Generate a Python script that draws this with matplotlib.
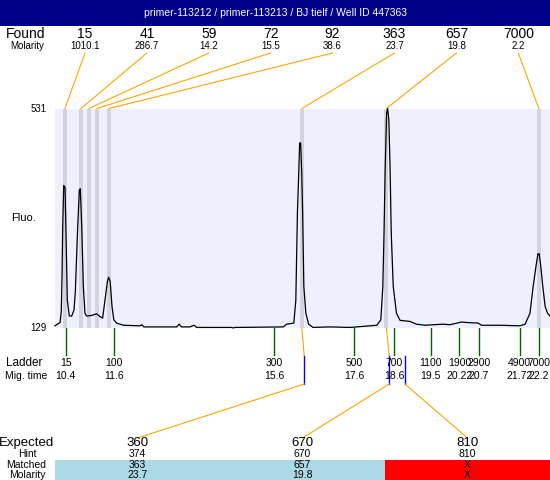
#!/usr/bin/env python3
"""Electropherogram summary for one well: found peaks, ladder and expected sizes."""

import matplotlib
matplotlib.use('Agg')
import matplotlib.pyplot as plt
from matplotlib.patches import Rectangle

plt.rcParams['font.family'] = ['Liberation Sans', 'DejaVu Sans']

TITLE = "primer-113212 / primer-113213 / BJ tielf / Well ID 447363"

# found peaks (size in bp, molarity, migration time)
found_sizes = [15, 41, 59, 72, 92, 363, 657, 7000]
found_molarity = [1010.1, 286.7, 14.2, 15.5, 38.6, 23.7, 19.8, 2.2]
found_times = [10.38, 10.78, 10.98, 11.18, 11.48, 16.29, 18.40, 22.20]

# ladder
ladder_sizes = [15, 100, 300, 500, 700, 1100, 1900, 2900, 4900, 7000]
ladder_times = [10.4, 11.6, 15.6, 17.6, 18.6, 19.5, 20.22, 20.7, 21.72, 22.2]

# expected fragments
expected_sizes = [360, 670, 810]
expected_hint = [374, 670, 810]
expected_times = [16.35, 18.47, 18.86]
matched_peak = [5, 6, None]          # index into found_* lists

# fluorescence trace
trace_time = [10.13, 10.26, 10.29, 10.31, 10.325, 10.35, 10.383, 10.407, 10.44,
              10.49, 10.55, 10.607, 10.64, 10.657, 10.70, 10.74, 10.764, 10.80,
              10.84, 10.88, 10.92, 11.05, 11.17, 11.255, 11.32, 11.38, 11.44,
              11.47, 11.51, 11.555, 11.60, 11.67, 11.84, 12.25, 12.30, 12.35,
              13.17, 13.23, 13.29, 13.50, 13.60, 13.67, 14.54, 14.58, 14.62,
              15.83, 15.91, 16.09, 16.14, 16.18, 16.21, 16.235, 16.26, 16.29,
              16.31, 16.34, 16.39, 16.46, 16.57, 16.99, 17.49, 17.99, 18.16,
              18.26, 18.31, 18.34, 18.37, 18.405, 18.43, 18.46, 18.49, 18.52,
              18.57, 18.65, 18.74, 18.99, 19.15, 19.36, 19.57, 19.82, 19.98,
              20.28, 20.40, 20.69, 20.77, 21.23, 21.73, 21.86, 21.98, 22.06,
              22.13, 22.18, 22.21, 22.25, 22.30, 22.36, 22.42, 22.48]
trace_fluo = [133, 139, 160, 230, 315, 390, 387, 303, 180,
              151, 151, 162, 195, 230, 315, 382, 384, 315,
              205, 156, 151, 152, 155, 150, 147, 180, 214,
              222, 214, 168, 144, 138, 134, 133, 135, 131,
              131, 136, 131, 131, 134, 130, 130, 129, 130,
              131, 136, 138, 180, 340, 407, 468, 468, 407,
              340, 205, 156, 136, 130, 131, 130, 133, 134,
              144, 205, 303, 425, 523, 531, 511, 425, 303,
              205, 156, 143, 141, 136, 134, 135, 136, 135,
              140, 139, 138, 134, 134, 133, 136, 156, 205,
              242, 265, 265, 242, 205, 168, 156, 151]

ORANGE = '#ffa500'
GREEN = '#006400'
BLUE = '#0000ff'
NAVY = '#000088'

W, H = 550, 480
PLOT_L, PLOT_R, PLOT_T, PLOT_B = 55, 550, 108.5, 328

fig = plt.figure(figsize=(W / 100, H / 100), dpi=100)

# overlay in pixel coordinates for the text blocks and connectors
ov = fig.add_axes([0, 0, 1, 1])
ov.set_xlim(0, W)
ov.set_ylim(H, 0)
ov.axis('off')

ax = fig.add_axes([PLOT_L / W, 1 - PLOT_B / H, (PLOT_R - PLOT_L) / W,
                   (PLOT_B - PLOT_T) / H])
ax.set_xlim(10.133, 22.48)
ax.set_ylim(129, 531)
ax.set_facecolor('#efeffd')
for s in ax.spines.values():
    s.set_visible(False)
ax.set_xticks([])
ax.set_yticks([])

for t in found_times:
    ax.axvspan(t - 0.05, t + 0.05, color='#d4d4e0', lw=0)
ax.plot(trace_time, trace_fluo, color='black', lw=0.9, clip_on=False)


def px(t):
    """migration time -> overlay pixel x"""
    disp = ax.transData.transform((t, 129))
    return ov.transData.inverted().transform(disp)[0]


# title bar
ov.add_patch(Rectangle((0, 0), W, 26, color=NAVY, lw=0))
ov.text(W / 2, 13, TITLE, color='white', fontsize=7.5, ha='center', va='center')

# y labels
ov.text(47, 109, '531', fontsize=7, ha='right', va='center')
ov.text(47, 328, '129', fontsize=7, ha='right', va='center')
ov.text(23, 218, 'Fluo.', fontsize=8, ha='center', va='center')

# found peaks
ov.text(26, 34, 'Found', fontsize=10, ha='center', va='center')
ov.text(27, 46, 'Molarity', fontsize=7, ha='center', va='center')
for i, (size, mol, t) in enumerate(zip(found_sizes, found_molarity, found_times)):
    cx = 85 + 61.9 * i
    ov.text(cx, 34, str(size), fontsize=10, ha='center', va='center')
    ov.text(cx, 46, f'{mol:.1f}', fontsize=7, ha='center', va='center')
    ov.plot([cx, px(t)], [53, PLOT_T], color=ORANGE, lw=0.8)

# ladder
ov.text(24, 363, 'Ladder', fontsize=8.5, ha='center', va='center')
ov.text(26, 376, 'Mig. time', fontsize=7.5, ha='center', va='center')
for size, t in zip(ladder_sizes, ladder_times):
    x = px(t)
    ov.plot([x, x], [PLOT_B, 355], color=GREEN, lw=1.0)
    ov.text(x, 363, str(size), fontsize=7.5, ha='center', va='center')
    ov.text(x, 376, f'{t:g}', fontsize=7.5, ha='center', va='center')

# expected / hint / matched table
ov.text(27, 443, 'Expected', fontsize=9.5, ha='center', va='center')
ov.text(27, 454, 'Hint', fontsize=7.5, ha='center', va='center')
ov.text(26, 465, 'Matched', fontsize=7.5, ha='center', va='center')
ov.text(27, 475, 'Molarity', fontsize=7.5, ha='center', va='center')

col_w = (PLOT_R - PLOT_L) / len(expected_sizes)
for j, (exp, hint, t, idx) in enumerate(zip(expected_sizes, expected_hint,
                                             expected_times, matched_peak)):
    x0 = PLOT_L + j * col_w
    cx = x0 + col_w / 2
    found = idx is not None
    ov.add_patch(Rectangle((x0, 459.5), col_w, H - 459.5, lw=0,
                           color='#add8e6' if found else '#ff0000'))
    xe = px(t)
    if found:
        ov.plot([px(found_times[idx]), xe], [PLOT_B, 356], color=ORANGE, lw=0.8)
    ov.plot([xe, xe], [356, 384], color=BLUE, lw=1.0)
    ov.plot([xe, cx], [384, 438], color=ORANGE, lw=0.8)
    ov.text(cx, 443, str(exp), fontsize=9.5, ha='center', va='center')
    ov.text(cx, 454, str(hint), fontsize=7.5, ha='center', va='center')
    ov.text(cx, 465, str(found_sizes[idx]) if found else 'X',
            fontsize=7.5, ha='center', va='center')
    ov.text(cx, 475, f'{found_molarity[idx]:.1f}' if found else 'X',
            fontsize=7.5, ha='center', va='center')

fig.savefig('out.png', dpi=100)
